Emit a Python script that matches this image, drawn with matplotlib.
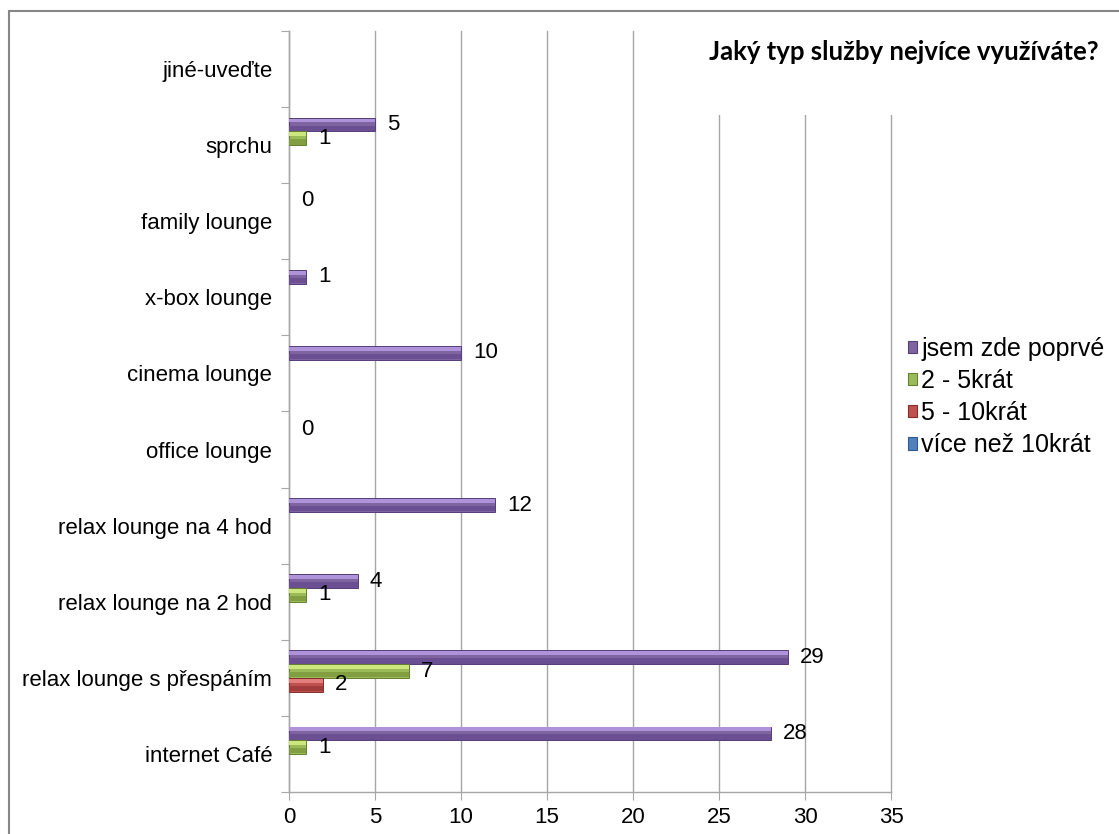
import matplotlib
matplotlib.use('Agg')
import matplotlib.pyplot as plt
import numpy as np
from matplotlib.patches import Rectangle

plt.rcParams['font.family'] = ['Liberation Sans', 'DejaVu Sans']

# Odpovědi z dotazníku (NaN = bez odpovědi)
categories = ['internet Café', 'relax lounge s přespáním', 'relax lounge na 2 hod',
              'relax lounge na 4 hod', 'office lounge', 'cinema lounge',
              'x-box lounge', 'family lounge', 'sprchu', 'jiné-uveďte']
series_names = ['jsem zde poprvé', '2 - 5krát', '5 - 10krát', 'více než 10krát']
nan = np.nan
poprve = [28, 29, 4, 12, 0, 10, 1, 0, 5, nan]
krat_2_5 = [1, 7, 1, nan, nan, nan, nan, nan, 1, nan]
krat_5_10 = [nan, 2, nan, nan, nan, nan, nan, nan, nan, nan]
vice_10 = [nan] * 10
title = 'Jaký typ služby nejvíce využíváte?'

# barvy: (světlý lesk, výplň, stín, okraj)
colors = [
    ('#AE92DA', '#8064A2', '#6A4F92', '#553E78'),
    ('#CDE67E', '#9BBB59', '#819E40', '#66802E'),
    ('#E27E7B', '#C0504D', '#A23C3A', '#842E2C'),
    ('#86ACE2', '#4F81BD', '#3D6CA6', '#2F5B8F'),
]

fig = plt.figure(figsize=(11.19, 8.34), dpi=100)
ax = fig.add_axes([289 / 1119, 1 - 792 / 834, (891 - 289) / 1119, (792 - 31) / 834])

centers = np.arange(len(categories)) + 0.5
h = 0.18
offsets = [1.5 * h, 0.5 * h, -0.5 * h, -1.5 * h]

for vals, (light, mid, shade, edge), off in zip([poprve, krat_2_5, krat_5_10, vice_10], colors, offsets):
    vals = np.array(vals, dtype=float)
    mask = ~np.isnan(vals)
    if not mask.any():
        continue
    yy = centers[mask] + off
    vv = vals[mask]
    lw = [0.7 if v > 0 else 0 for v in vv]
    ax.barh(yy, vv, height=h, color=mid, edgecolor=edge, linewidth=lw, zorder=3)
    # lesk v horní části a stín ve spodní části sloupce
    ax.barh(yy + h * 0.3, vv, height=h * 0.28, color=light, linewidth=0, zorder=4)
    ax.barh(yy - h * 0.27, vv, height=h * 0.38, color=shade, linewidth=0, zorder=4)
    for y, v in zip(yy, vv):
        ax.annotate(f'{v:g}', xy=(v, y), xytext=(8.5, 0), textcoords='offset points',
                    ha='left', va='center', fontsize=16, color='black', zorder=5)

ax.set_xlim(0, 35)
ax.set_ylim(0, len(categories))
ax.set_xticks(np.arange(0, 36, 5))
ax.set_yticks(np.arange(0, len(categories) + 1))
ax.set_yticklabels([])
ax.set_yticks(centers, minor=True)
ax.set_yticklabels(categories, minor=True)
ax.tick_params(axis='y', which='major', length=6, color='#A6A6A6', direction='out')
ax.tick_params(axis='y', which='minor', length=0, pad=12, labelsize=16)
ax.tick_params(axis='x', length=6, color='#A6A6A6', direction='out', pad=5, labelsize=16)

ax.grid(axis='x', color='#A6A6A6', linewidth=1)
ax.set_axisbelow(True)
for line in ax.get_xgridlines():
    line.set_clip_on(False)
for s in ['top', 'right']:
    ax.spines[s].set_visible(False)
for s in ['left', 'bottom']:
    ax.spines[s].set_color('#A6A6A6')
    ax.spines[s].set_linewidth(1)

# bílé pole nadpisu zakrývá mřížku
ax.add_patch(Rectangle((680 / 1119, 1 - 115 / 834), 430 / 1119, 100 / 834,
                       transform=fig.transFigure, facecolor='white', edgecolor='none',
                       clip_on=False, zorder=1))
fig.text((707 + 1100) / 2 / 1119, 1 - 52 / 834, title, ha='center', va='center',
         fontsize=18.5, fontweight='bold', family=['Lato', 'DejaVu Sans'])

handles = [Rectangle((0, 0), 1, 1, facecolor=c[1], edgecolor=c[3], linewidth=0.8) for c in colors]
ax.legend(handles, series_names, loc='center left', bbox_to_anchor=(908 / 1119, 1 - 397 / 834),
          bbox_transform=fig.transFigure, frameon=False, fontsize=18,
          handlelength=0.38, handleheight=0.38, handletextpad=0.15,
          labelspacing=0.33, borderpad=0, borderaxespad=0)

# rámeček grafu
fig.patches.append(Rectangle((9 / 1119, -0.05), 1.1, 1 - 11 / 834 + 0.05,
                             transform=fig.transFigure, fill=False,
                             edgecolor='#868686', linewidth=1.5))

fig.savefig('out.png', dpi=100)
